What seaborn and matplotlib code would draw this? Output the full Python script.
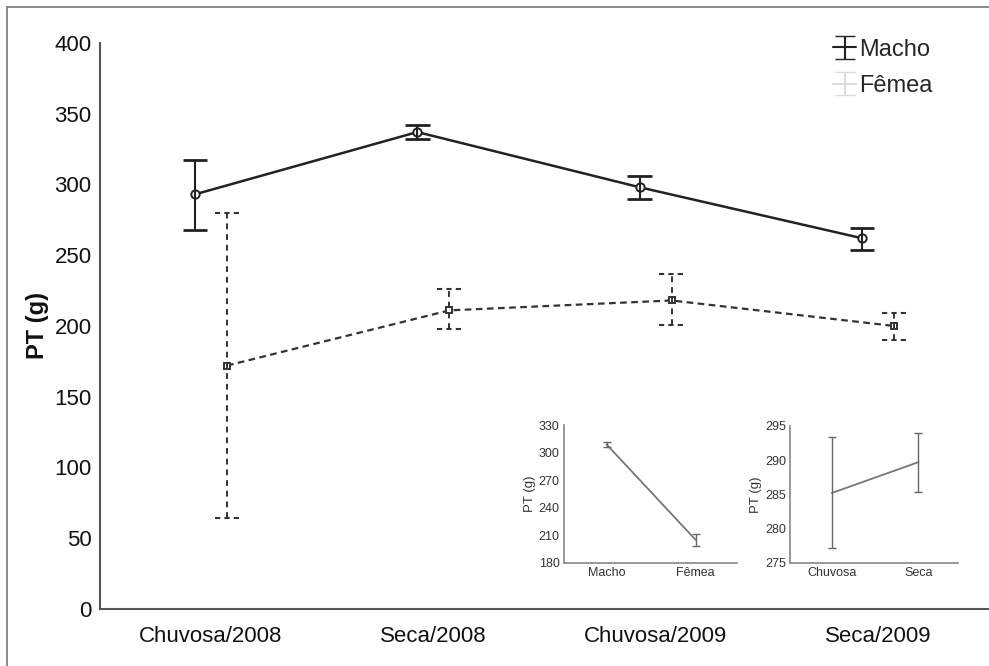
import numpy as np
import pandas as pd
import matplotlib
matplotlib.use("Agg")
import matplotlib.pyplot as plt
import seaborn as sns
from matplotlib.lines import Line2D

# main chart data
periods = ["Chuvosa/2008", "Seca/2008", "Chuvosa/2009", "Seca/2009"]
macho_mean = [293, 337, 298, 262]
macho_low = [268, 332, 290, 254]
macho_high = [317, 342, 306, 269]
femea_mean = [172, 211, 218, 200]
femea_low = [64, 198, 201, 190]
femea_high = [280, 226, 237, 209]

# inset 1: sex effect
sex_labels = ["Macho", "Fêmea"]
sex_mean = [309, 205]
sex_low = [306, 199]
sex_high = [312, 211]

# inset 2: season effect
season_labels = ["Chuvosa", "Seca"]
season_mean = [285.2, 289.7]
season_low = [277.2, 285.3]
season_high = [293.3, 293.9]

sns.set_theme(style="white")
plt.rcParams["font.family"] = ["Liberation Sans", "DejaVu Sans"]

fig = plt.figure(figsize=(9.89, 6.66), dpi=100)
ax = fig.add_axes([0.101, 0.0856, 0.899, 0.85])

off = 0.072
xm = np.arange(len(periods)) - off
xf = np.arange(len(periods)) + off
df = pd.DataFrame({
    "x": np.concatenate([xm, xf]),
    "PT": macho_mean + femea_mean,
    "Sexo": ["Macho"] * 4 + ["Fêmea"] * 4,
})

sns.lineplot(data=df[df.Sexo == "Macho"], x="x", y="PT", ax=ax, color="#222222",
             lw=1.8, marker="o", markersize=6, markerfacecolor="white",
             markeredgecolor="#222222", markeredgewidth=1.4, legend=False)
sns.lineplot(data=df[df.Sexo == "Fêmea"], x="x", y="PT", ax=ax, color="#333333",
             lw=1.6, marker="s", markersize=5, markerfacecolor="white",
             markeredgecolor="#333333", markeredgewidth=1.4, legend=False)
ax.lines[-1].set_dashes((3, 2))

mm = np.array(macho_mean)
fm = np.array(femea_mean)
ax.errorbar(xm, mm, yerr=[mm - np.array(macho_low), np.array(macho_high) - mm],
            fmt="none", ecolor="#222222", elinewidth=1.5, capsize=0)
ax.hlines(macho_low + macho_high, np.tile(xm, 2) - 0.055, np.tile(xm, 2) + 0.055,
          color="#222222", lw=2)
eb = ax.errorbar(xf, fm, yerr=[fm - np.array(femea_low), np.array(femea_high) - fm],
                 fmt="none", ecolor="#333333", elinewidth=1.4, capsize=0)
eb[2][0].set_linestyle((0, (3, 2.5)))
ax.hlines(femea_low + femea_high, np.tile(xf, 2) - 0.055, np.tile(xf, 2) + 0.055,
          color="#333333", lw=1.5, linestyles=(0, (2.5, 2)))

ax.set_xlim(-0.5, 3.5)
ax.set_ylim(0, 400)
ax.set_xticks(range(len(periods)))
ax.set_xticklabels(periods, fontsize=16, color="#111111")
ax.set_yticks(np.arange(0, 401, 50))
ax.tick_params(axis="y", labelsize=16, length=3, direction="in", color="#666666",
               labelcolor="#111111", pad=6)
ax.tick_params(axis="x", length=3, direction="in", color="#666666", pad=12)
ax.set_xlabel("")
ax.set_ylabel("PT (g)", fontsize=17, labelpad=4, fontweight="semibold", color="#111111")
for s in ["top", "right"]:
    ax.spines[s].set_visible(False)
for s in ["left", "bottom"]:
    ax.spines[s].set_color("#555555")
    ax.spines[s].set_linewidth(1.5)

# legend with errorbar symbols
h1 = ax.errorbar([np.nan], [np.nan], yerr=[1], fmt="-", color="#222222", capsize=7,
                 lw=1.5, label="Macho")
h2 = ax.errorbar([np.nan], [np.nan], yerr=[1], fmt="-", color="#dddddd", capsize=7,
                 lw=1.5, label="Fêmea")
ax.legend(handles=[h1, h2], loc="upper right", bbox_to_anchor=(0.96, 1.045),
          frameon=False, fontsize=17, handlelength=1.0, handletextpad=0.1,
          labelspacing=0.6)


def inset(rect, labels, mean, low, high, ylim, yticks):
    a = fig.add_axes(rect)
    d = pd.DataFrame({"x": np.arange(len(labels)), "PT": mean})
    sns.lineplot(data=d, x="x", y="PT", ax=a, color="#777777", lw=1.3, legend=False)
    m = np.array(mean)
    a.errorbar(d.x, m, yerr=[m - np.array(low), np.array(high) - m], fmt="none",
               ecolor="#666666", elinewidth=1.0, capsize=3, capthick=1.0)
    a.set_xlim(-0.48, 1.46)
    a.set_ylim(*ylim)
    a.set_yticks(yticks)
    a.set_xticks(range(len(labels)))
    a.set_xticklabels(labels)
    a.tick_params(labelsize=9, length=2, direction="in", colors="#333333", pad=3)
    a.set_xlabel("")
    a.set_ylabel("PT (g)", fontsize=9.5, labelpad=2, color="#333333")
    a.patch.set_alpha(0)
    for s in ["top", "right"]:
        a.spines[s].set_visible(False)
    for s in ["left", "bottom"]:
        a.spines[s].set_color("#888888")
        a.spines[s].set_linewidth(1.2)
    return a


inset([0.570, 0.1547, 0.175, 0.207], sex_labels, sex_mean, sex_low, sex_high,
      (180, 330), np.arange(180, 331, 30))
inset([0.799, 0.1547, 0.170, 0.206], season_labels, season_mean, season_low,
      season_high, (275, 295), np.arange(275, 296, 5))

# outer frame (left and top edges)
fig.add_artist(Line2D([0.007, 0.007], [0, 0.99], transform=fig.transFigure,
                      color="#777777", lw=1.2))
fig.add_artist(Line2D([0.007, 1.0], [0.99, 0.99], transform=fig.transFigure,
                      color="#777777", lw=1.2))

fig.savefig("out.png", dpi=100)
